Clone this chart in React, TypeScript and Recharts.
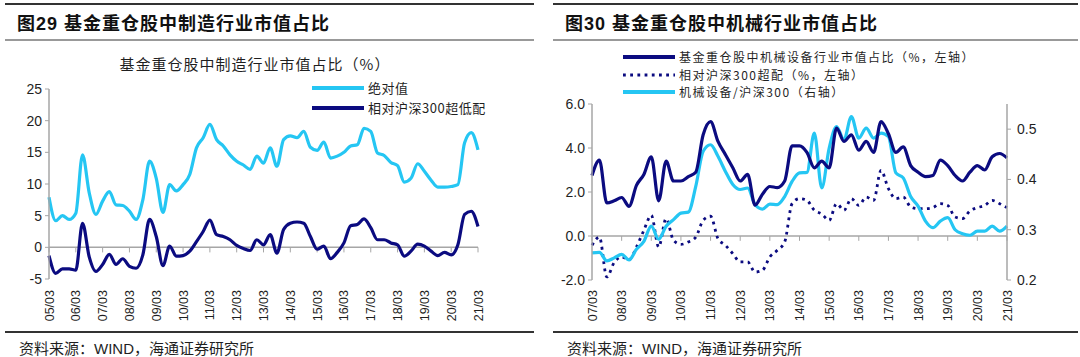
import React from "react";
import { LineChart, Line, XAxis, YAxis, ReferenceLine } from "recharts";

const CYAN = "#25C6F3";
const NAVY = "#0B0B80";
const AXIS = "#A6A6A6";
const TEXT = "#1F1F1F";
const SANS = "'Liberation Sans', Arial, 'Noto Sans CJK SC', sans-serif";
const CJK = "'Noto Sans CJK SC', 'Liberation Sans', sans-serif";

const MONTHS = ["03", "06", "09", "12"];

// quarter-end categories, yy/mm
function quarters(fromYear: number, toYear: number) {
  const out: string[] = [];
  for (let y = fromYear; y <= toYear; y++) {
    for (const m of MONTHS) {
      if (y === toYear && m !== "03") break;
      out.push(String(y % 100).padStart(2, "0") + "/" + m);
    }
  }
  return out;
}

// Figure 29: manufacturing share in funds' heavy holdings (%)
const mfgQuarters = quarters(2005, 2021);
const mfgAbsolute = [
  7.9, 4.2, 5.0, 4.4, 5.4, 14.6, 8.6, 5.2, 7.3, 8.8,
  6.7, 6.6, 5.7, 4.4, 7.5, 13.6, 10.9, 5.5, 9.9, 8.9,
  9.9, 11.5, 15.7, 17.3, 19.4, 17.0, 16.0, 14.6, 13.6, 13.0,
  12.3, 14.4, 13.3, 15.7, 12.8, 17.0, 17.6, 17.3, 18.3, 15.8,
  15.3, 16.6, 14.1, 14.4, 15.0, 16.0, 16.2, 18.8, 18.3, 14.9,
  14.5, 13.4, 12.9, 10.3, 10.9, 13.2, 12.0, 10.6, 9.5, 9.5,
  9.6, 9.9, 16.5, 18.1, 15.4,
];
const mfgRelative = [
  -1.3, -4.1, -3.4, -3.4, -3.6, 3.8, -1.5, -3.8, -2.7, -1.1,
  -2.7, -1.8, -3.0, -3.3, -1.2, 4.4, 1.7, -2.9, 0.2, -1.4,
  -1.3, -0.6, 0.9, 2.5, 4.3, 2.0, 1.7, 1.2, 0.3, -0.2,
  -0.5, 1.2, 0.4, 2.0, -0.9, 2.8, 3.8, 4.0, 3.8, 1.7,
  -0.3, 0.2, -1.8, -0.8, 0.7, 3.4, 3.6, 4.5, 3.1, 1.2,
  1.2, 0.7, 0.4, -1.4, -0.6, 0.5, 0.2, -0.6, -1.3, -0.8,
  -1.2, 0.4, 5.2, 5.7, 3.3,
];
const mfgTicks = [-5, 0, 5, 10, 15, 20, 25];

// Figure 30: machinery share
const machQuarters = quarters(2007, 2021);
const machShare = [
  2.75, 3.45, 1.5, 1.6, 1.75, 1.35, 2.3, 2.8, 3.6, 1.6,
  3.4, 2.5, 2.5, 2.7, 2.9, 4.6, 5.2, 4.3, 3.7, 3.1,
  2.5, 2.8, 1.4, 1.9, 2.25, 2.2, 2.5, 4.1, 4.1, 3.8,
  3.1, 3.4, 3.1, 4.9, 4.3, 4.6, 3.9, 4.3, 3.8, 5.2,
  4.65, 3.8, 4.05, 3.2, 2.9, 2.7, 2.75, 3.45, 3.2, 2.75,
  2.5, 2.9, 3.2, 3.0, 3.6, 3.75, 3.55,
];
const machOverweight = [
  -0.42, -0.05, -1.86, -1.2, -0.95, -1.08, -0.5, 0.26, 0.94, -0.5,
  0.79, -0.2, -0.38, -0.27, -0.05, 0.71, 0.9, -0.12, -0.42, -0.8,
  -1.18, -1.18, -1.64, -1.56, -0.95, -0.65, -0.27, 1.47, 1.7, 1.62,
  1.17, 1.0, 0.71, 1.47, 1.17, 1.7, 1.39, 1.77, 1.62, 2.98,
  2.15, 1.7, 1.77, 1.32, 1.24, 1.24, 1.29, 1.47, 1.39, 0.86,
  0.79, 1.14, 1.29, 1.39, 1.62, 1.47, 1.29,
];
const machVsHs300 = [
  0.254, 0.255, 0.238, 0.244, 0.251, 0.240, 0.261, 0.277, 0.307, 0.281,
  0.307, 0.320, 0.333, 0.335, 0.386, 0.456, 0.469, 0.446, 0.416, 0.390,
  0.380, 0.383, 0.350, 0.341, 0.351, 0.350, 0.366, 0.396, 0.413, 0.414,
  0.492, 0.383, 0.462, 0.505, 0.479, 0.525, 0.482, 0.502, 0.482, 0.492,
  0.485, 0.413, 0.403, 0.366, 0.347, 0.317, 0.304, 0.317, 0.324, 0.300,
  0.292, 0.289, 0.297, 0.297, 0.307, 0.297, 0.307,
];
const machLeftTicks = [-2, 0, 2, 4, 6];
const machRightTicks = [0.2, 0.3, 0.4, 0.5];

const mfgData = mfgQuarters.map((q, i) => ({ q, abs: mfgAbsolute[i], rel: mfgRelative[i] }));
const machData = machQuarters.map((q, i) => ({
  q,
  share: machShare[i],
  over: machOverweight[i],
  ratio: machVsHs300[i],
}));

const RotTick = (props: any) => {
  const { x, y, payload } = props;
  return (
    <text
      x={x}
      y={y}
      transform={`rotate(-90 ${x} ${y})`}
      textAnchor="end"
      dy={4.5}
      fontSize={12.5}
      fill={TEXT}
      fontFamily={SANS}
    >
      {payload.value}
    </text>
  );
};

const abs = (s: React.CSSProperties): React.CSSProperties => ({ position: "absolute", ...s });

function Frame({ left, width, title }: { left: number; width: number; title: string }) {
  return (
    <>
      <div style={abs({ left, top: 3, width, height: 2, background: "#333" })} />
      <div
        style={abs({
          left: left + 12,
          top: 9,
          fontSize: 18,
          fontWeight: 700,
          fontFamily: SANS,
          color: "#111",
          letterSpacing: 1,
          whiteSpace: "nowrap",
        })}
      >
        {title}
      </div>
      <div style={abs({ left, top: 39, width, height: 2, background: "#999" })} />
      <div style={abs({ left, top: 331, width, height: 2, background: "#333" })} />
      <div
        style={abs({
          left: left + 14,
          top: 337,
          fontSize: 15,
          fontFamily: CJK,
          color: TEXT,
          whiteSpace: "nowrap",
        })}
      >
        资料来源：<span style={{ fontFamily: SANS }}>WIND</span>，海通证券研究所
      </div>
    </>
  );
}

function LegendRow({
  left,
  top,
  color,
  dotted,
  label,
  size = 13,
  spacing = 0.5,
}: {
  left: number;
  top: number;
  color: string;
  dotted?: boolean;
  label: string;
  size?: number;
  spacing?: number;
}) {
  return (
    <div style={abs({ left, top, height: 14, display: "flex", alignItems: "center", whiteSpace: "nowrap" })}>
      <svg width={52} height={6} style={{ marginRight: 4, flex: "none" }}>
        <line
          x1={0}
          y1={3}
          x2={52}
          y2={3}
          stroke={color}
          strokeWidth={dotted ? 2.8 : 4}
          strokeDasharray={dotted ? "2.8 4.4" : undefined}
        />
      </svg>
      <div
        style={{
          height: 14,
          fontSize: size,
          fontFamily: CJK,
          color: TEXT,
          lineHeight: "14px",
          letterSpacing: spacing,
        }}
      >
        {label}
      </div>
    </div>
  );
}

function ManufacturingChart() {
  const tickCats = mfgQuarters.filter((_, i) => i % 4 === 0);
  return (
    <div style={abs({ left: 0, top: 0 })}>
      <LineChart width={540} height={357} data={mfgData} margin={{ top: 89, right: 62, bottom: 28, left: 9 }}>
        <XAxis dataKey="q" interval={3} axisLine={false} tickLine={false} tickSize={0} tickMargin={11} height={50} tick={<RotTick />} />
        <YAxis
          domain={[-5, 25]}
          ticks={mfgTicks}
          width={40}
          axisLine={{ stroke: AXIS, strokeWidth: 1.5 }}
          tickLine={{ stroke: AXIS }}
          tickSize={4}
          tickMargin={3}
          tick={{ fontSize: 14, fill: TEXT, fontFamily: SANS }}
        />
        <ReferenceLine y={0} stroke={AXIS} strokeWidth={1.5} />
        {tickCats.map((c) => (
          <ReferenceLine key={c} segment={[{ x: c, y: 0 }, { x: c, y: -0.8 }]} stroke={AXIS} />
        ))}
        <Line type="monotone" dataKey="abs" stroke={CYAN} strokeWidth={3.2} dot={false} isAnimationActive={false} />
        <Line type="monotone" dataKey="rel" stroke={NAVY} strokeWidth={3.2} dot={false} isAnimationActive={false} />
      </LineChart>
      <div
        style={abs({
          left: 0,
          width: 510,
          top: 53,
          textAlign: "center",
          fontSize: 15,
          fontFamily: CJK,
          color: TEXT,
          letterSpacing: 1,
        })}
      >
        基金重仓股中制造行业市值占比（%）
      </div>
      <LegendRow left={312} top={81} color={CYAN} label="绝对值" />
      <LegendRow left={312} top={101} color={NAVY} label="相对沪深300超低配" />
    </div>
  );
}

function MachineryChart() {
  const tickCats = machQuarters.filter((_, i) => i % 4 === 0);
  return (
    <div style={abs({ left: 540, top: 0 })}>
      <LineChart width={540} height={357} data={machData} margin={{ top: 104, right: 23, bottom: 27, left: 12 }}>
        <XAxis dataKey="q" interval={3} axisLine={false} tickLine={false} tickSize={0} tickMargin={10} height={50} tick={<RotTick />} />
        <YAxis
          yAxisId="left"
          domain={[-2, 6]}
          ticks={machLeftTicks}
          width={40}
          axisLine={{ stroke: AXIS, strokeWidth: 1.5 }}
          tickLine={{ stroke: AXIS }}
          tickSize={4}
          tickMargin={3}
          tickFormatter={(v: number) => v.toFixed(1)}
          tick={{ fontSize: 14, fill: TEXT, fontFamily: SANS }}
        />
        <YAxis
          yAxisId="right"
          orientation="right"
          domain={[0.2, 0.55]}
          ticks={machRightTicks}
          width={50}
          axisLine={{ stroke: AXIS, strokeWidth: 1.5 }}
          tickLine={{ stroke: AXIS }}
          tickSize={4}
          tickMargin={6}
          tickFormatter={(v: number) => v.toFixed(1)}
          tick={{ fontSize: 14, fill: TEXT, fontFamily: SANS }}
        />
        <ReferenceLine yAxisId="left" y={0} stroke={AXIS} strokeWidth={1.5} />
        {tickCats.map((c) => (
          <ReferenceLine key={c} yAxisId="left" segment={[{ x: c, y: 0 }, { x: c, y: -0.22 }]} stroke={AXIS} />
        ))}
        <Line yAxisId="left" type="monotone" dataKey="over" stroke={NAVY} strokeWidth={2.8} strokeDasharray="2.8 4.4" dot={false} isAnimationActive={false} />
        <Line yAxisId="right" type="monotone" dataKey="ratio" stroke={CYAN} strokeWidth={3.2} dot={false} isAnimationActive={false} />
        <Line yAxisId="left" type="monotone" dataKey="share" stroke={NAVY} strokeWidth={3.2} dot={false} isAnimationActive={false} />
      </LineChart>
      <LegendRow left={83} top={50} size={12} spacing={1.5} color={NAVY} label="基金重仓股中机械设备行业市值占比（%，左轴）" />
      <LegendRow left={83} top={67.5} size={12} spacing={1.5} color={NAVY} dotted label="相对沪深300超配（%，左轴）" />
      <LegendRow left={83} top={85} size={12} spacing={1.5} color={CYAN} label="机械设备/沪深300（右轴）" />
    </div>
  );
}

export default function App() {
  return (
    <div style={abs({ left: 0, top: 0, width: 1080, height: 357, background: "#fff", overflow: "hidden" })}>
      <Frame left={5} width={529} title="图29 基金重仓股中制造行业市值占比" />
      <Frame left={553} width={525} title="图30 基金重仓股中机械行业市值占比" />
      <ManufacturingChart />
      <MachineryChart />
    </div>
  );
}
